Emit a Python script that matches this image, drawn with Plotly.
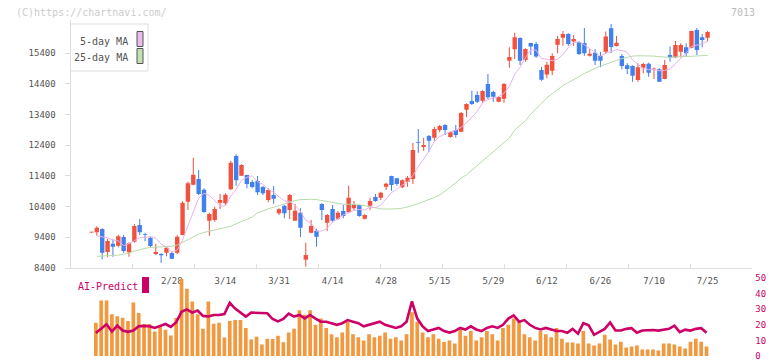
import plotly.graph_objects as go

W, H = 772, 361

opens = [9560, 9563, 9672, 8922, 9193, 9128, 9411, 8911, 9259, 9802,
         9498, 9389, 8857, 8857, 8900, 8889, 8900, 9476, 10563, 11118,
         11302, 10954, 9944, 9965, 10531, 10509, 10965, 12052, 11411, 11433,
         11205, 11237, 11041, 10617, 10780, 10183, 10433, 10291, 9944, 10204,
         8672, 9552, 9617, 10487, 9878, 10324, 10009, 10259, 10215, 10346,
         10454, 10009, 10433, 10715, 10693, 11052, 11400, 11324, 11030, 11215,
         11302, 12509, 12346, 12705, 12650, 12900, 13063, 12672, 12900, 12846,
         13563, 13846, 14042, 13857, 14400, 14139, 13824, 13922, 15161, 15531,
         15900, 15183, 15737, 15705, 14857, 14705, 14835, 15683, 15911, 16031,
         15781, 15770, 15737, 15324, 15422, 15313, 15454, 16215, 15640, 15313,
         15009, 14987, 14531, 14933, 15063, 14878, 14878, 14563, 15346, 15270,
         15454, 15596, 15585, 16161, 15922, 15911]
highs = [9580, 9760, 9694, 9346, 9335, 9487, 9476, 9237, 9835, 9998,
         9552, 9400, 9183, 8878, 9074, 8922, 9465, 10574, 11215, 11998,
         11596, 10998, 10204, 10400, 10813, 10835, 11900, 12107, 11781, 11444,
         11270, 11400, 11074, 10998, 11074, 10346, 10454, 10813, 10487, 10346,
         9226, 9965, 9683, 10509, 10161, 10454, 10259, 10454, 11085, 10585,
         10454, 10150, 10693, 10813, 10889, 11183, 11411, 11346, 11292, 11400,
         12476, 12933, 12650, 12737, 13009, 13063, 13085, 12846, 13063, 13487,
         13770, 14183, 14161, 14194, 14726, 14183, 13998, 14433, 15596, 16074,
         15922, 15563, 15748, 15770, 14965, 15128, 15400, 15965, 16129, 16052,
         15998, 15792, 16226, 15541, 15541, 15454, 16107, 16357, 15965, 15378,
         15074, 15009, 15074, 15096, 15096, 14933, 14911, 15183, 15618, 15802,
         15726, 15726, 16139, 16226, 16031, 16129]
lows = [9550, 9455, 8683, 8748, 8770, 9074, 8900, 8770, 9226, 9476,
        9280, 9074, 8824, 8574, 8780, 8693, 8846, 9465, 10291, 11096,
        10770, 10204, 9454, 9911, 10324, 10454, 10944, 11085, 11400, 10998,
        10998, 10780, 10780, 10541, 10498, 10128, 10020, 9998, 9944, 9411,
        8443, 9530, 9096, 9965, 9617, 9889, 9965, 10020, 10183, 10291,
        10074, 9987, 10291, 10563, 10617, 10944, 10922, 11085, 10998, 11052,
        11139, 12161, 12226, 12193, 12552, 12824, 12737, 12650, 12650, 12824,
        13324, 13715, 13781, 13791, 13900, 13824, 13802, 13791, 14933, 15216,
        15020, 15128, 15346, 15259, 14509, 14585, 14694, 15400, 15650, 15650,
        15640, 15346, 15324, 15292, 15020, 14944, 15379, 15400, 15618, 14878,
        14726, 14476, 14476, 14748, 14639, 14563, 14465, 14552, 15128, 15237,
        15270, 15313, 15563, 15346, 15596, 15781]
closes = [9560, 9715, 8900, 9280, 9096, 9433, 8954, 9204, 9770, 9563,
          9476, 9117, 8922, 8813, 9063, 8704, 9422, 10531, 11161, 11444,
          10813, 10226, 10161, 10324, 10617, 10791, 11835, 11259, 11759, 11139,
          11041, 10867, 10835, 10944, 10661, 10313, 10183, 10780, 10270, 9715,
          8824, 9770, 9422, 10291, 10128, 9944, 10204, 10096, 10693, 10454,
          10096, 10128, 10585, 10585, 10857, 11150, 11107, 11139, 11259, 11346,
          12250, 12487, 12411, 12552, 12933, 13031, 12900, 12824, 12737, 13455,
          13748, 13748, 13824, 14172, 13965, 13987, 13976, 14400, 15281, 15922,
          15161, 15541, 15618, 15292, 14541, 15031, 15313, 15868, 16031, 15705,
          15868, 15379, 15400, 15389, 15161, 15161, 15944, 15607, 15748, 14987,
          14889, 14672, 14944, 15053, 14770, 14900, 14476, 15020, 15259, 15672,
          15672, 15400, 16129, 15509, 15835, 16096]

ma5 = [None, 9450, 9420, 9380, 9310, 9285, 9133, 9193, 9291, 9385,
       9393, 9426, 9370, 9178, 9078, 8924, 8985, 9307, 9776, 10252,
       10674, 10835, 10761, 10594, 10428, 10424, 10746, 10965, 11252, 11357,
       11407, 11213, 11128, 10965, 10870, 10724, 10587, 10576, 10441, 10252,
       9954, 9872, 9600, 9604, 9687, 9911, 9998, 10133, 10213, 10278,
       10309, 10293, 10391, 10370, 10450, 10661, 10857, 10968, 11102, 11200,
       11420, 11696, 11951, 12209, 12527, 12683, 12765, 12848, 12885, 12989,
       13133, 13302, 13502, 13789, 13891, 13939, 13985, 14100, 14322, 14713,
       14948, 15261, 15505, 15507, 15231, 15205, 15159, 15209, 15357, 15590,
       15757, 15770, 15677, 15548, 15439, 15298, 15411, 15452, 15524, 15489,
       15435, 15181, 15048, 14909, 14866, 14868, 14829, 14844, 14885, 15065,
       15220, 15405, 15626, 15676, 15709, 15794]

ma25 = [None, 8780, 8785, 8790, 8800, 8820, 8850, 8880, 8950, 9000,
        9040, 9070, 9085, 9095, 9100, 9110, 9150, 9240, 9330, 9420,
        9500, 9560, 9600, 9640, 9670, 9700, 9760, 9840, 9910, 9990,
        10060, 10200, 10270, 10330, 10380, 10440, 10490, 10540, 10600, 10630,
        10640, 10640, 10630, 10600, 10570, 10520, 10490, 10480, 10480, 10480,
        10460, 10430, 10390, 10350, 10330, 10320, 10320, 10330, 10350, 10390,
        10440, 10500, 10560, 10630, 10700, 10780, 10900, 11040, 11180, 11330,
        11440, 11590, 11740, 11900, 12050, 12180, 12330, 12480, 12640, 12900,
        13050, 13200, 13420, 13600, 13780, 13950, 14080, 14220, 14350, 14440,
        14530, 14640, 14740, 14830, 14910, 14980, 15050, 15110, 15170, 15230,
        15280, 15310, 15320, 15320, 15320, 15310, 15290, 15270, 15270, 15280,
        15290, 15300, 15320, 15330, 15330, 15330]

ai_bars = [None, 21.3, 35.6, 35.6, 26.8, 25.5, 24.5, 22.4, 34.3, 27.6,
           20.5, 20.5, 15.7, 19.5, 16.8, 13.2, 24.3, 49.4, 43.1, 35.0,
           26.8, 17.4, 35.0, 20.7, 21.3, 11.9, 22.4, 23.0, 23.0, 18.0,
           10.5, 12.4, 7.3, 11.1, 10.9, 13.0, 8.8, 15.1, 17.4, 29.3,
           26.4, 29.3, 20.0, 24.0, 18.0, 14.0, 12.0, 15.0, 22.0, 14.0,
           12.0, 10.0, 14.0, 12.0, 13.0, 15.0, 11.0, 12.0, 10.0, 14.0,
           28.0, 22.0, 15.0, 12.0, 14.0, 11.0, 9.0, 10.0, 8.0, 18.0,
           13.0, 16.0, 10.0, 12.0, 16.0, 14.0, 10.0, 18.0, 20.0, 24.0,
           22.0, 14.0, 12.0, 10.0, 16.0, 14.0, 12.0, 18.0, 11.1, 8.6,
           8.6, 8.0, 16.1, 8.0, 6.7, 8.0, 13.6, 10.5, 7.3, 9.2,
           5.5, 6.1, 6.7, 4.2, 4.2, 4.2, 3.6, 8.0, 8.0, 7.3,
           6.1, 4.8, 9.2, 11.1, 9.2, 6.1]

ai_line = [None, 14.7, 17.4, 20.3, 15.7, 19.5, 16.3, 15.5, 16.3, 19.1,
           19.3, 19.1, 18.0, 19.1, 20.5, 18.6, 21.7, 28.3, 29.9, 27.8,
           29.1, 25.7, 25.3, 26.3, 26.3, 26.9, 34.1, 30.4, 27.8, 25.3,
           27.8, 27.8, 27.4, 27.4, 23.7, 22.2, 23.7, 27.2, 25.3, 26.3,
           24.1, 26.3, 24.0, 22.0, 22.0, 21.0, 20.0, 21.0, 23.0, 22.0,
           21.0, 19.0, 20.0, 21.0, 22.0, 20.0, 19.0, 18.0, 19.0, 22.0,
           35.0, 24.0, 19.0, 16.0, 17.0, 18.0, 16.0, 15.0, 16.0, 18.0,
           17.0, 19.0, 17.0, 16.0, 18.0, 19.0, 18.0, 20.0, 24.0, 26.0,
           22.0, 23.0, 20.0, 18.0, 17.0, 18.0, 17.0, 16.0, 16.0, 14.9,
           17.4, 14.3, 21.1, 19.7, 13.6, 15.3, 17.4, 21.5, 16.3, 16.3,
           17.4, 17.8, 14.9, 16.3, 16.7, 16.7, 16.3, 16.7, 17.4, 19.5,
           15.3, 16.9, 16.3, 17.4, 17.8, 14.9]

tick_labels = ['2/28', '3/14', '3/31', '4/14', '4/28', '5/15',
               '5/29', '6/12', '6/26', '7/10', '7/25']
tick_index = [15, 25, 35, 45, 55, 65, 75, 85, 95, 105, 115]
price_ticks = [8400, 9400, 10400, 11400, 12400, 13400, 14400, 15400]
ai_ticks = [0, 10, 20, 30, 40, 50]

RED = '#f2513d'
BLUE = '#4181ef'
PINK = '#e8b2ea'
GREEN = '#b5dba8'
ORANGE = '#f2983f'
CRIMSON = '#cc0066'
AXIS = '#dddddd'
MONO = 'DejaVu Sans Mono'


def px(x):
    return x / W


def py(y):
    return 1 - y / H


n = len(closes)
idx = list(range(n))
colors = [RED if c >= o else BLUE for o, c in zip(opens, closes)]
body_base = [min(o, c) for o, c in zip(opens, closes)]
body_h = [max(abs(c - o), 25) for o, c in zip(opens, closes)]
wick_h = [h - l for h, l in zip(highs, lows)]

x_min, x_max = -3.92, 123.35
y_min, y_max = 8400, 16486
ai_min, ai_max = 0, 50

fig = go.Figure()
fig.add_trace(go.Scatter(x=idx, y=ma25, mode='lines', line=dict(color=GREEN, width=1),
                         xaxis='x', yaxis='y', hoverinfo='skip'))
fig.add_trace(go.Scatter(x=idx, y=ma5, mode='lines', line=dict(color=PINK, width=1),
                         xaxis='x', yaxis='y', hoverinfo='skip'))
fig.add_trace(go.Bar(x=idx, base=lows, y=wick_h, width=0.19,
                     marker=dict(color=colors, line_width=0), xaxis='x', yaxis='y'))
fig.add_trace(go.Bar(x=idx, base=body_base, y=body_h, width=0.82,
                     marker=dict(color=colors, line_width=0), xaxis='x', yaxis='y'))
fig.add_trace(go.Bar(x=idx, y=ai_bars, width=0.69, marker=dict(color=ORANGE, line_width=0),
                     xaxis='x2', yaxis='y2'))
fig.add_trace(go.Scatter(x=idx, y=ai_line, mode='lines', line=dict(color=CRIMSON, width=2.6),
                         xaxis='x2', yaxis='y2'))
fig.add_trace(go.Scatter(x=tick_index, y=[None] * len(tick_index), mode='markers',
                         xaxis='x3', yaxis='y', hoverinfo='skip'))

xdom = [px(70.5), px(752.3)]
fig.update_layout(
    template='none',
    width=W, height=H, margin=dict(l=0, r=0, t=0, b=0, autoexpand=False),
    paper_bgcolor='white', plot_bgcolor='white', showlegend=False,
    barmode='overlay', font=dict(family=MONO, color='#555555', size=9),
    xaxis=dict(domain=xdom, range=[x_min, x_max], anchor='y', showgrid=False, zeroline=False,
               automargin=False,
               showline=True, linecolor=AXIS, linewidth=1, ticks='inside', ticklen=4,
               tickcolor=AXIS, tick0=x_min, dtick=(x_max - x_min) / 11, showticklabels=False),
    xaxis3=dict(overlaying='x', anchor='y', side='bottom', range=[x_min, x_max], showgrid=False,
                automargin=False,
                zeroline=False, showline=False, ticks='', tickmode='array', tickvals=tick_index,
                ticktext=tick_labels, tickfont=dict(family=MONO, size=9, color='#555555'),
                ticklabelstandoff=6),
    yaxis=dict(domain=[py(268), py(20)], range=[y_min, y_max], anchor='x', showgrid=False,
               automargin=False,
               zeroline=False, showline=True, linecolor=AXIS, linewidth=1, ticks='outside',
               ticklen=5, tickcolor=AXIS, tickmode='array', tickvals=price_ticks,
               ticktext=[str(v) for v in price_ticks],
               tickfont=dict(family=MONO, size=9, color='#555555'), ticklabelstandoff=7),
    xaxis2=dict(domain=xdom, range=[x_min + 0.19, x_max + 0.19], anchor='y2', visible=False,
                automargin=False),
    yaxis2=dict(domain=[py(356), py(278)], range=[ai_min, ai_max], anchor='x2',
                side='right', automargin=False, ticklabeloverflow='allow',
                showgrid=False, zeroline=False, showline=False, ticks='', tickmode='array',
                tickvals=ai_ticks, tickfont=dict(family=MONO, size=9, color=CRIMSON),
                ticklabelstandoff=2),
)

shapes = [
    dict(type='rect', xref='paper', yref='paper', x0=px(70.5), x1=px(148), y0=py(71), y1=py(24),
         line=dict(color=AXIS, width=1), fillcolor='white', layer='above'),
    dict(type='rect', xref='paper', yref='paper', x0=px(137), x1=px(143), y0=py(46.5), y1=py(31.5),
         line=dict(color='#555555', width=1), fillcolor='#ebbbeb', layer='above'),
    dict(type='rect', xref='paper', yref='paper', x0=px(137), x1=px(143), y0=py(63.5), y1=py(48.5),
         line=dict(color='#555555', width=1), fillcolor='#c0e1b4', layer='above'),
    dict(type='rect', xref='paper', yref='paper', x0=px(142), x1=px(149), y0=py(293), y1=py(277),
         line=dict(width=0), fillcolor=CRIMSON, layer='above'),
]
fig.update_layout(shapes=shapes)

annotations = [
    dict(text='5-day MA', x=px(130), y=py(41), xanchor='right', yanchor='middle',
         font=dict(family=MONO, size=10, color='#555555')),
    dict(text='25-day MA', x=px(130), y=py(57), xanchor='right', yanchor='middle',
         font=dict(family=MONO, size=10, color='#555555')),
    dict(text='(C)https://chartnavi.com/', x=px(14), y=py(12), xanchor='left', yanchor='middle',
         font=dict(family=MONO, size=10, color='#cccccc')),
    dict(text='7013', x=px(757), y=py(12), xanchor='right', yanchor='middle',
         font=dict(family=MONO, size=10, color='#bbbbbb')),
    dict(text='AI-Predict', x=px(76), y=py(286), xanchor='left', yanchor='middle',
         font=dict(family=MONO, size=10, color=CRIMSON)),
]
for a in annotations:
    a.update(xref='paper', yref='paper', showarrow=False)
fig.update_layout(annotations=annotations)

fig.write_html('out.html', config={'displayModeBar': False, 'staticPlot': True},
               post_script="document.body.style.margin='0px';document.body.style.overflow='hidden';")
